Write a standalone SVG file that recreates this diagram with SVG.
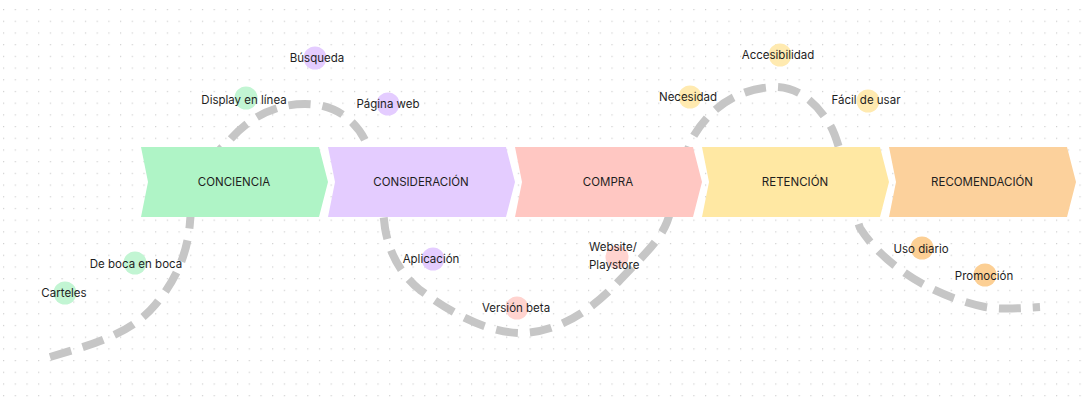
<svg xmlns="http://www.w3.org/2000/svg" width="1088" height="400" viewBox="0 0 1088 400">
  <style>
    text { font-family: Inter, "Liberation Sans", sans-serif; font-size: 11.5px; fill: #1e1e1e; }
    .stage text { text-anchor: middle; dominant-baseline: central; }
    .tp text { text-anchor: middle; dominant-baseline: central; }
    .path { fill: none; stroke: #c6c6c6; stroke-width: 8; stroke-dasharray: 22 12; }
    .g { fill: #aff4c6; } .v { fill: #e4ccff; } .r { fill: #ffc7c2; } .y { fill: #ffe8a3; } .o { fill: #fcd19c; }
    .gc { fill: #c2f5d3; } .vc { fill: #e4ccff; } .rc { fill: #ffd3cf; } .yc { fill: #ffeab0; } .oc { fill: #fccf94; }
  </style>
  <defs>
    <pattern id="dots" x="3" y="9" width="11.7" height="11.7" patternUnits="userSpaceOnUse">
      <rect x="0" y="0" width="1.2" height="1.2" fill="#cfcfcf"/>
    </pattern>
    <polygon id="chev" points="0,0 178,0 187,35 178,70 0,70 7,35"/>
  </defs>
  <rect width="1088" height="400" fill="#ffffff"/>
  <rect width="1088" height="400" fill="url(#dots)"/>

  <g id="connectors">
    <path class="path" d="M50,357 C90,345 130,335 155,305 C178,278 188,250 190,222 C192,190 205,160 228,142 C245,122 270,104 305,104 C335,104 355,120 365,140 C375,165 382,200 385,228 C389,252 400,274 420,290 C442,306 480,332 520,333 C558,333 592,310 620,280 C644,255 660,240 667,222 C678,192 682,160 693,137 C710,108 738,88 775,87 C800,87 818,105 830,125 C842,145 850,200 860,228 C870,244 886,260 905,273 C925,287 952,300 985,307 C1005,310 1020,308 1040,307"/>
  </g>

  <g id="stage-conciencia" class="stage">
    <use href="#chev" x="141" y="147" class="g"/>
    <text x="234" y="182">CONCIENCIA</text>
  </g>
  <g id="stage-consideracion" class="stage">
    <use href="#chev" x="328" y="147" class="v"/>
    <text x="421" y="182">CONSIDERACIÓN</text>
  </g>
  <g id="stage-compra" class="stage">
    <use href="#chev" x="515" y="147" class="r"/>
    <text x="608" y="182">COMPRA</text>
  </g>
  <g id="stage-retencion" class="stage">
    <use href="#chev" x="702" y="147" class="y"/>
    <text x="795" y="182">RETENCIÓN</text>
  </g>
  <g id="stage-recomendacion" class="stage">
    <use href="#chev" x="889" y="147" class="o"/>
    <text x="982" y="182">RECOMENDACIÓN</text>
  </g>

  <g id="tp-busqueda" class="tp"><circle cx="315" cy="58" r="11.5" class="vc"/><text x="317" y="58">Búsqueda</text></g>
  <g id="tp-display" class="tp"><circle cx="246" cy="98" r="11.5" class="gc"/><text x="244" y="100">Display en línea</text></g>
  <g id="tp-pagina" class="tp"><circle cx="388" cy="104" r="11.5" class="vc"/><text x="388" y="104">Página web</text></g>
  <g id="tp-boca" class="tp"><circle cx="135" cy="263" r="11.5" class="gc"/><text x="136" y="264">De boca en boca</text></g>
  <g id="tp-carteles" class="tp"><circle cx="65" cy="293" r="11.5" class="gc"/><text x="64" y="293">Carteles</text></g>
  <g id="tp-aplicacion" class="tp"><circle cx="433" cy="259" r="11.5" class="vc"/><text x="431" y="259">Aplicación</text></g>
  <g id="tp-beta" class="tp"><circle cx="517" cy="308" r="11.5" class="rc"/><text x="516" y="308">Versión beta</text></g>
  <g id="tp-website" class="tp"><circle cx="617" cy="257" r="11.5" class="rc"/><text x="589" y="247" style="text-anchor:start">Website/</text><text x="589" y="265" style="text-anchor:start">Playstore</text></g>
  <g id="tp-accesibilidad" class="tp"><circle cx="780" cy="55" r="11.5" class="yc"/><text x="778" y="55">Accesibilidad</text></g>
  <g id="tp-necesidad" class="tp"><circle cx="690" cy="97" r="11.5" class="yc"/><text x="688" y="97">Necesidad</text></g>
  <g id="tp-facil" class="tp"><circle cx="868" cy="101" r="11.5" class="yc"/><text x="866" y="100">Fácil de usar</text></g>
  <g id="tp-uso" class="tp"><circle cx="922" cy="248" r="11.5" class="oc"/><text x="921" y="249">Uso diario</text></g>
  <g id="tp-promocion" class="tp"><circle cx="985" cy="275" r="11.5" class="oc"/><text x="984" y="276">Promoción</text></g>
</svg>
